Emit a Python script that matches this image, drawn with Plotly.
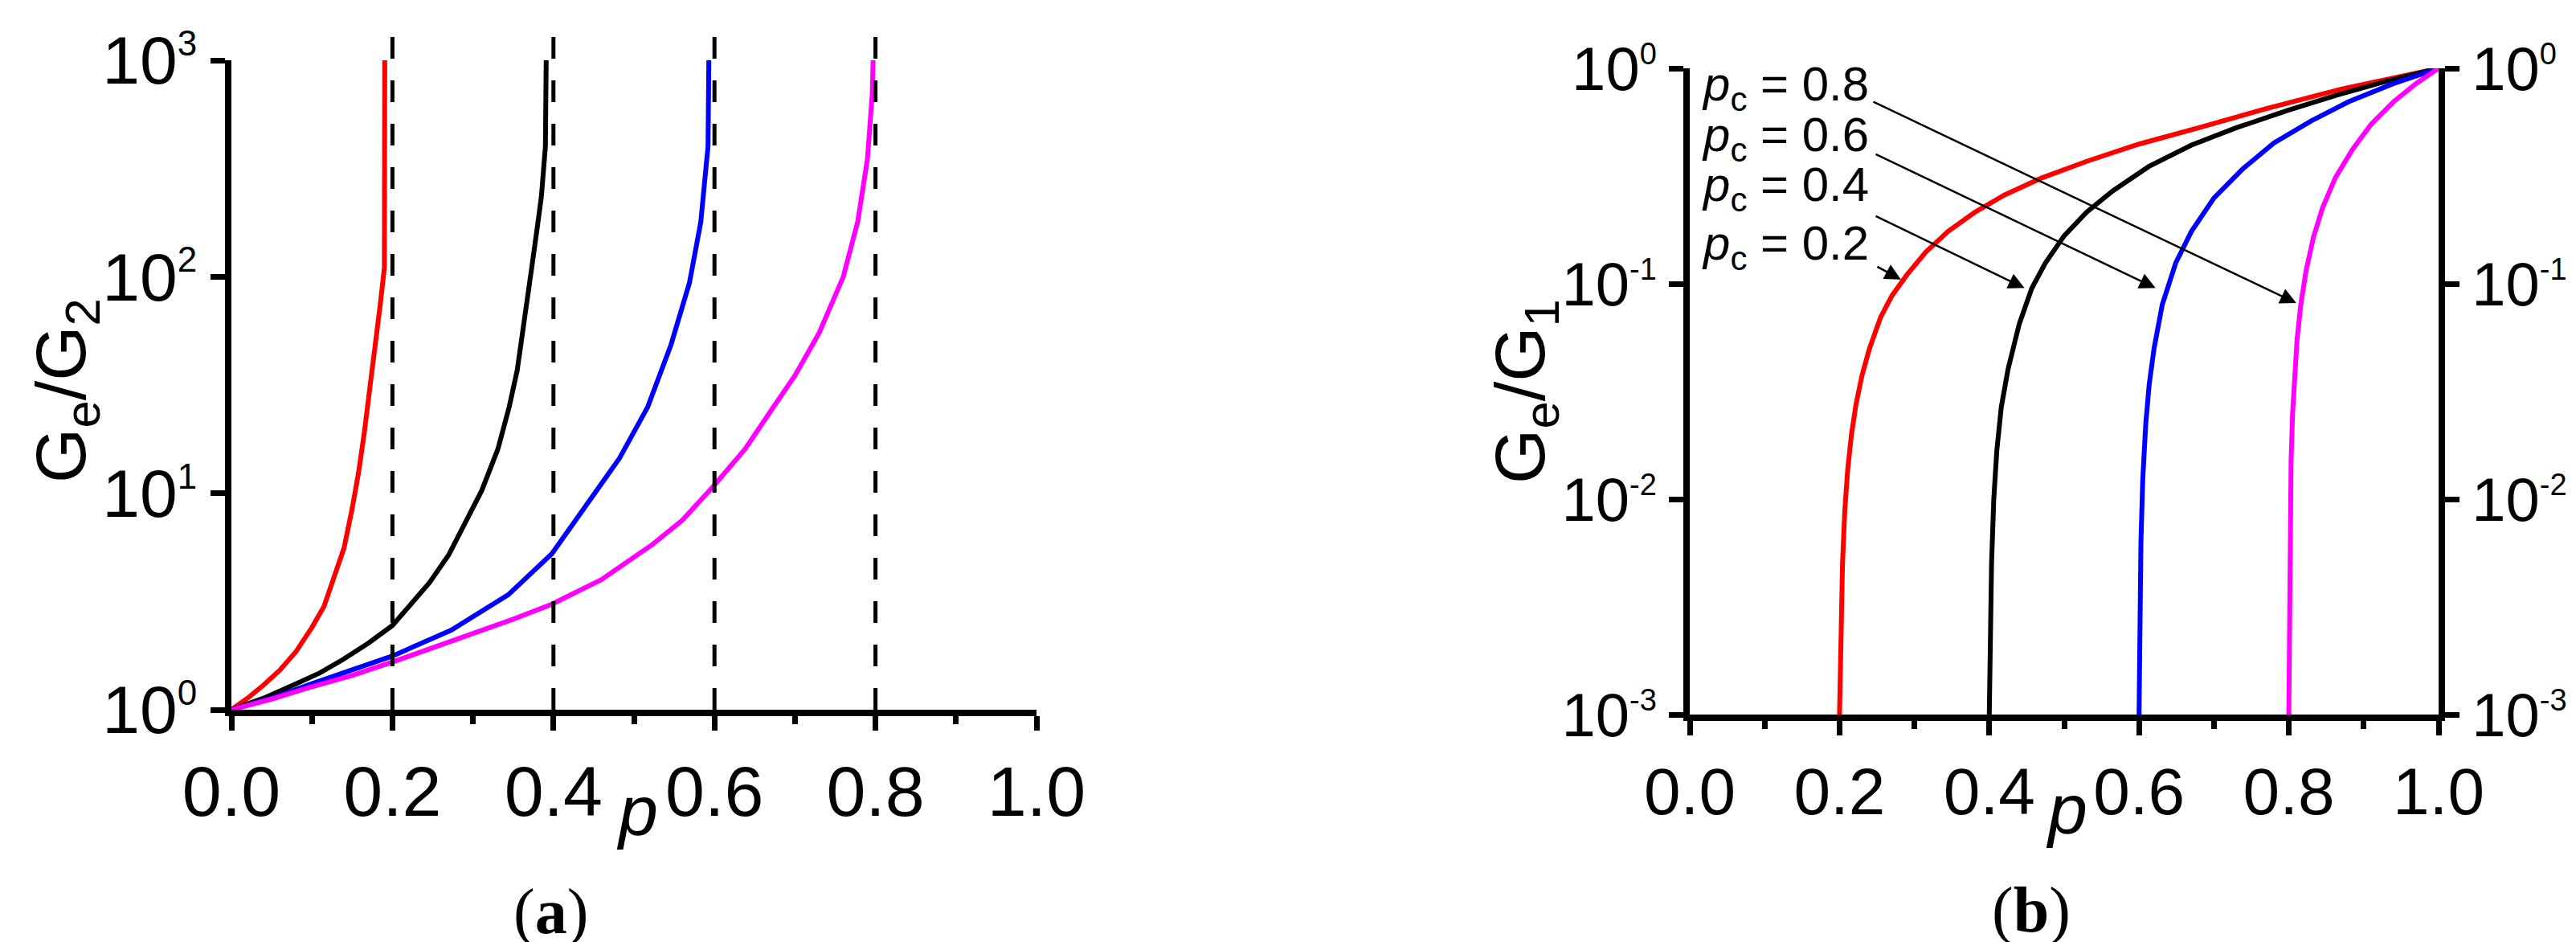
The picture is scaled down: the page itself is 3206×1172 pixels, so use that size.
import plotly.graph_objects as go

# ---- panel (a): G_e/G_2 versus p, one curve per critical fraction p_c ----
pc_values = [0.2, 0.4, 0.6, 0.8]
curve_colors = ["#ff0000", "#000000", "#0000ff", "#ff00ff"]

a_p_02 = [0, 0.02, 0.04, 0.06, 0.08, 0.1, 0.115, 0.13, 0.14, 0.15, 0.158, 0.165, 0.172, 0.179, 0.185, 0.19, 0.1905]
a_g_02 = [1, 1.13, 1.3, 1.52, 1.85, 2.4, 3.0, 4.3, 5.6, 8.5, 12.5, 19, 30, 48, 75, 110, 1000]

a_p_04 = [0, 0.04, 0.077, 0.11, 0.139, 0.17, 0.2, 0.246, 0.27, 0.291, 0.311, 0.331, 0.345, 0.355, 0.362,
          0.373, 0.38, 0.385, 0.39, 0.391]
a_g_04 = [1, 1.13, 1.3, 1.48, 1.71, 2.03, 2.45, 3.86, 5.2, 7.4, 10.3, 16, 25, 37, 55,
          110, 170, 234, 400, 1000]

a_p_06 = [0, 0.05, 0.095, 0.15, 0.2, 0.273, 0.344, 0.398, 0.433, 0.46, 0.482, 0.517, 0.546, 0.569, 0.583,
          0.592, 0.593]
a_g_06 = [1, 1.13, 1.3, 1.52, 1.77, 2.33, 3.4, 5.25, 8.0, 11, 14.5, 25, 48.5, 94, 179,
          400, 1000]

a_p_08 = [0, 0.05, 0.095, 0.15, 0.2, 0.25, 0.3, 0.35, 0.398, 0.46, 0.523, 0.56, 0.598, 0.638, 0.67, 0.7,
          0.73, 0.76, 0.778, 0.79, 0.796, 0.797]
a_g_08 = [1, 1.12, 1.26, 1.44, 1.66, 1.93, 2.25, 2.62, 3.07, 4.0, 5.8, 7.5, 10.7, 16, 24, 35,
          55, 100, 180, 350, 700, 1000]

# ---- panel (b): G_e/G_1 versus p ----
b_p_02 = [0.2, 0.202, 0.204, 0.207, 0.211, 0.216, 0.222, 0.23, 0.24, 0.255, 0.27, 0.29, 0.315, 0.345,
          0.38, 0.42, 0.47, 0.53, 0.6, 0.68, 0.77, 0.87, 1.0]
b_g_02 = [0.001, 0.0025, 0.005, 0.0088, 0.0138, 0.02, 0.0275, 0.0375, 0.05, 0.07, 0.088, 0.11, 0.14, 0.175,
          0.214, 0.258, 0.31, 0.37, 0.445, 0.53, 0.65, 0.8, 1.0]

b_p_04 = [0.4, 0.4015, 0.403, 0.406, 0.41, 0.416, 0.425, 0.44, 0.4566, 0.475, 0.5, 0.53, 0.565, 0.613,
          0.67, 0.73, 0.8, 0.864, 0.93, 1.0]
b_g_04 = [0.001, 0.0025, 0.005, 0.01, 0.0167, 0.0267, 0.04, 0.065, 0.095, 0.125, 0.167, 0.215, 0.27, 0.35,
          0.44, 0.53, 0.64, 0.75, 0.87, 1.0]

b_p_06 = [0.6, 0.601, 0.6025, 0.605, 0.609, 0.6135, 0.62, 0.631, 0.649, 0.67, 0.7, 0.738, 0.78, 0.83,
          0.88, 0.94, 1.0]
b_g_06 = [0.001, 0.0025, 0.0063, 0.0125, 0.0225, 0.034, 0.05, 0.08, 0.125, 0.175, 0.25, 0.34, 0.45, 0.57,
          0.7, 0.85, 1.0]

b_p_08 = [0.8, 0.8007, 0.8015, 0.803, 0.805, 0.8075, 0.811, 0.816, 0.823, 0.833, 0.845, 0.862, 0.885,
          0.91, 0.94, 0.97, 1.0]
b_g_08 = [0.001, 0.0035, 0.0075, 0.015, 0.025, 0.038, 0.055, 0.08, 0.115, 0.165, 0.225, 0.31, 0.42,
          0.55, 0.7, 0.85, 1.0]

# labels and arrows of panel (b): text, arrow tail (p, log10 G) and tip (p, log10 G)
label_texts = ["0.8", "0.6", "0.4", "0.2"]
label_rows_px = [101, 164, 226, 299]
arrow_tail_p = [0.2436, 0.2468, 0.2468, 0.2489]
arrow_tail_log = [-0.153, -0.396, -0.683, -0.918]
arrow_tip_p = [0.81, 0.622, 0.447, 0.282]
arrow_tip_log = [-1.09, -1.02, -1.02, -0.98]

a_ytick_vals = [1, 10, 100, 1000]
a_ytick_exp = ["0", "1", "2", "3"]
b_ytick_vals = [0.001, 0.01, 0.1, 1]
b_ytick_exp = ["-3", "-2", "-1", "0"]

W, H = 3206, 1172
FONT = "Arial, 'Liberation Sans', sans-serif"
SERIF = "'Palatino Linotype', 'Liberation Serif', serif"


def px_x(x):
    return x / W


def px_y(y):
    return 1 - y / H


def power_labels(exps, sup_size):
    return [f"10<sup><span style='font-size:{sup_size}px'>{e}</span></sup>" for e in exps]


fig = go.Figure()

a_series = [(a_p_02, a_g_02), (a_p_04, a_g_04), (a_p_06, a_g_06), (a_p_08, a_g_08)]
b_series = [(b_p_02, b_g_02), (b_p_04, b_g_04), (b_p_06, b_g_06), (b_p_08, b_g_08)]

for (px, gy), color, pc in zip(a_series, curve_colors, pc_values):
    fig.add_trace(go.Scatter(x=px, y=gy, mode="lines", line=dict(color=color, width=6),
                             name=f"pc={pc}", xaxis="x", yaxis="y", showlegend=False))

for (px, gy), color, pc in zip(b_series, curve_colors, pc_values):
    fig.add_trace(go.Scatter(x=px, y=gy, mode="lines", line=dict(color=color, width=6),
                             name=f"pc={pc}", xaxis="x2", yaxis="y2", showlegend=False))

# invisible trace so the mirrored right-hand axis of panel (b) is drawn
fig.add_trace(go.Scatter(x=[1], y=[1], mode="markers", marker=dict(opacity=0), xaxis="x2", yaxis="y3",
                         showlegend=False, hoverinfo="skip"))

axis_common = dict(showline=True, linecolor="black", linewidth=8, showgrid=False, zeroline=False,
                   ticks="outside", tickcolor="black", tickwidth=7, ticklen=18, automargin=False)
minor_x = dict(dtick=0.1, ticks="outside", ticklen=10, tickwidth=7, tickcolor="black")

fig.update_layout(
    width=W, height=H,
    margin=dict(l=0, r=0, t=0, b=0),
    paper_bgcolor="white", plot_bgcolor="white",
    font=dict(family=FONT, color="black"),
    showlegend=False,
    xaxis=dict(domain=[px_x(280), px_x(1282)], anchor="y", range=[0, 1], tick0=0, dtick=0.2, tickformat=".1f",
               tickfont=dict(size=88), minor=minor_x, **axis_common),
    yaxis=dict(domain=[px_y(875), px_y(67)], anchor="x", type="log", range=[0, 3], tickmode="array",
               tickvals=a_ytick_vals, ticktext=power_labels(a_ytick_exp, 44), tickfont=dict(size=84),
               **axis_common),
    xaxis2=dict(domain=[px_x(2095), px_x(3027)], anchor="y2", range=[0, 1], tick0=0, dtick=0.2, tickformat=".1f",
                tickfont=dict(size=82), minor=minor_x, **axis_common),
    yaxis2=dict(domain=[px_y(881), px_y(77)], anchor="x2", type="log", range=[-3, 0], tickmode="array",
                tickvals=b_ytick_vals, ticktext=power_labels(b_ytick_exp, 38), tickfont=dict(size=76),
                **axis_common),
    yaxis3=dict(overlaying="y2", anchor="x2", side="right", type="log", range=[-3, 0], tickmode="array",
                tickvals=b_ytick_vals, ticktext=power_labels(b_ytick_exp, 38), tickfont=dict(size=76),
                **axis_common),
)

# dashed guide lines at p = p_c in panel (a)
for pc in pc_values:
    fig.add_shape(type="line", xref="x", yref="y domain", x0=pc, x1=pc, y0=0, y1=1.038,
                  line=dict(color="black", width=5, dash="27px,27px"), layer="above")

# axis titles and panel labels
texts = [
    dict(x=px_x(74), y=px_y(478), text="G<sub>e</sub>/G<sub>2</sub>", textangle=-90, font=dict(size=88, family=FONT)),
    dict(x=px_x(1889), y=px_y(479), text="G<sub>e</sub>/G<sub>1</sub>", textangle=-90, font=dict(size=88, family=FONT)),
    dict(x=px_x(785), y=px_y(1000), text="<i>p</i>", font=dict(size=88, family=FONT)),
    dict(x=px_x(2564), y=px_y(998), text="<i>p</i>", font=dict(size=88, family=FONT)),
    dict(x=px_x(677), y=px_y(1126), text="(<b>a</b>)", font=dict(size=80, family=SERIF)),
    dict(x=px_x(2520), y=px_y(1124), text="(<b>b</b>)", font=dict(size=80, family=SERIF)),
]
for t in texts:
    fig.add_annotation(xref="paper", yref="paper", showarrow=False, xanchor="center", yanchor="middle",
                       font=dict(color="black", **t.pop("font")), **t)

for txt, row in zip(label_texts, label_rows_px):
    fig.add_annotation(xref="paper", yref="paper", x=px_x(2108), y=px_y(row), xanchor="left", yanchor="middle",
                       showarrow=False, text=f"<i>p</i><sub>c</sub> = {txt}",
                       font=dict(size=60, family=FONT, color="black"))

for tp, tl, hp, hl in zip(arrow_tail_p, arrow_tail_log, arrow_tip_p, arrow_tip_log):
    fig.add_annotation(xref="x2", yref="y2", axref="x2", ayref="y2", x=hp, y=hl, ax=tp, ay=tl, text="",
                       showarrow=True, arrowhead=2, arrowsize=1.6, arrowwidth=2.5, arrowcolor="black", standoff=0)

fig.write_html("out.html")
